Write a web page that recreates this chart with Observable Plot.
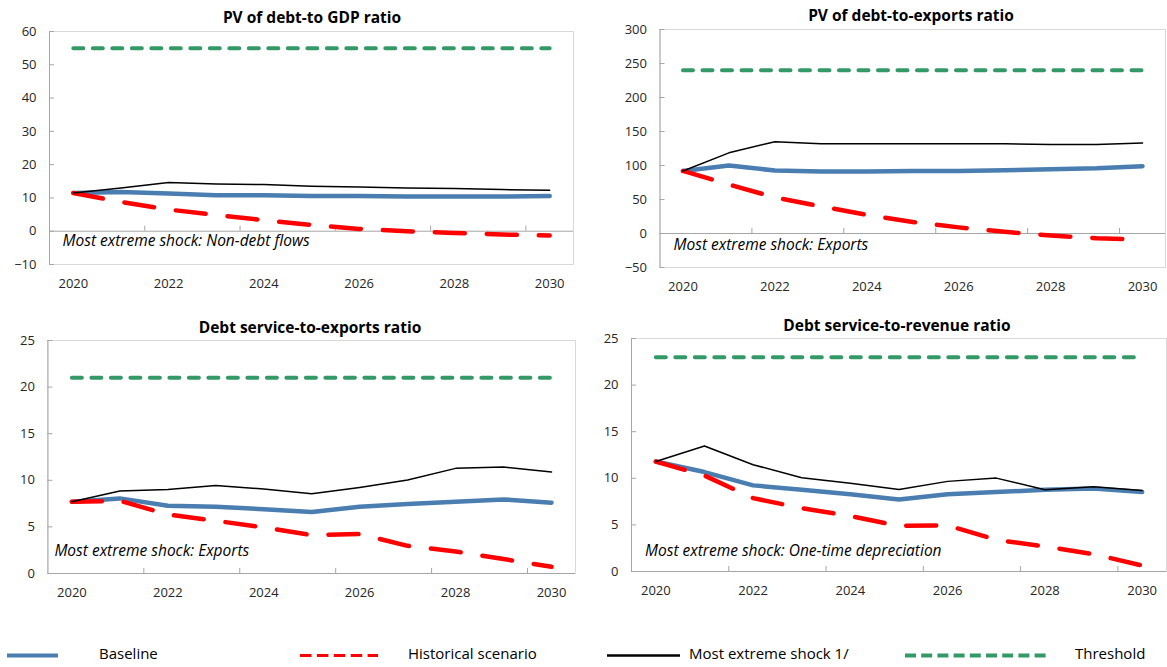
<!DOCTYPE html>
<html><head><meta charset="utf-8">
<script src="https://cdn.jsdelivr.net/npm/d3@7"></script>
<script src="https://cdn.jsdelivr.net/npm/@observablehq/plot@0.6"></script>
<style>
body{margin:0;background:#fff;}
#root{position:relative;width:1167px;height:667px;overflow:hidden;font-family:"Open Sans",sans-serif;color:#000;background:#fff}
.panel{position:absolute}
.title{position:absolute;transform:translate(-50%,-50%);font-weight:700;font-size:15.5px;white-space:nowrap;color:#000}
.leg{position:absolute;font-size:15px;white-space:nowrap;transform:translateY(-50%);color:#000}
</style></head><body><div id="root"></div>
<script>
// ---- data ----
const years = [2020, 2021, 2022, 2023, 2024, 2025, 2026, 2027, 2028, 2029, 2030];
const yearLabels = [2020, 2022, 2024, 2026, 2028, 2030];
const seriesNames = ["Baseline", "Historical scenario", "Most extreme shock 1/", "Threshold"];

const titles = ["PV of debt-to GDP ratio", "PV of debt-to-exports ratio", "Debt service-to-exports ratio", "Debt service-to-revenue ratio"];
const notes = ["Most extreme shock: Non-debt flows", "Most extreme shock: Exports", "Most extreme shock: Exports", "Most extreme shock: One-time depreciation"];

const gdpBaseline   = [11.5, 11.8, 11.3, 10.8, 10.8, 10.6, 10.6, 10.4, 10.4, 10.4, 10.6];
const gdpHistorical = [11.5, 8.8, 6.5, 4.9, 3.3, 1.9, 0.7, 0.0, -0.5, -1.0, -1.3];
const gdpExtreme    = [11.5, 13.0, 14.6, 14.2, 14.0, 13.5, 13.3, 13.0, 12.8, 12.5, 12.3];
const gdpThreshold  = 55;
const gdpTicks = [-10, 0, 10, 20, 30, 40, 50, 60];

const pvxBaseline   = [92, 100, 92.6, 91, 91, 92, 92, 93, 94.5, 96, 99];
const pvxHistorical = [92, 72, 53, 40, 27.5, 17, 9, 2.5, -3, -7, -9];
const pvxExtreme    = [92, 118.6, 135, 132, 132, 132, 132, 132, 131, 131, 133];
const pvxThreshold  = 240;
const pvxTicks = [-50, 0, 50, 100, 150, 200, 250, 300];

const dsxBaseline   = [7.7, 8.06, 7.27, 7.16, 6.9, 6.6, 7.16, 7.45, 7.7, 7.95, 7.6];
const dsxHistorical = [7.7, 7.8, 6.34, 5.66, 4.94, 4.12, 4.23, 2.97, 2.36, 1.55, 0.72];
const dsxExtreme    = [7.7, 8.85, 9.0, 9.45, 9.06, 8.56, 9.24, 10.03, 11.28, 11.43, 10.9];
const dsxThreshold  = 21;
const dsxTicks = [0, 5, 10, 15, 20, 25];

const dsrBaseline   = [11.8, 10.67, 9.24, 8.77, 8.3, 7.73, 8.3, 8.52, 8.77, 8.9, 8.52];
const dsrHistorical = [11.8, 10.3, 7.87, 6.8, 5.94, 4.9, 4.94, 3.4, 2.69, 1.86, 0.64];
const dsrExtreme    = [11.8, 13.46, 11.46, 10.06, 9.48, 8.8, 9.67, 10.02, 8.77, 9.1, 8.7];
const dsrThreshold  = 23;
const dsrTicks = [0, 5, 10, 15, 20, 25];

// ---- styles ----
const colBlue = "#4a7eb0", colRed = "#ff0000", colBlack = "#000000", colGreen = "#339966";
const axisGray = "#a6a6a6", frameGray = "#d9d9d9";

const panels = [
  {left: 0,   top: 0,   w: 583, ml: 49,   mr: 10, mt: 31, mb: 36, b: gdpBaseline, h: gdpHistorical, e: gdpExtreme, t: gdpThreshold, ticks: gdpTicks, title: titles[0], tx: 312, ty: 17, note: notes[0], ndx: 13, ndy: -19},
  {left: 583, top: 0,   w: 584, ml: 76.5, mr: 2,  mt: 29, mb: 33, b: pvxBaseline, h: pvxHistorical, e: pvxExtreme, t: pvxThreshold, ticks: pvxTicks, title: titles[1], tx: 911, ty: 15, note: notes[1], ndx: 13.5, ndy: -18},
  {left: 0,   top: 310, w: 583, ml: 47.4, mr: 8,  mt: 30, mb: 37, b: dsxBaseline, h: dsxHistorical, e: dsxExtreme, t: dsxThreshold, ticks: dsxTicks, title: titles[2], tx: 310, ty: 327, note: notes[2], ndx: 6.5, ndy: -18},
  {left: 583, top: 310, w: 584, ml: 48,   mr: 1,  mt: 28, mb: 39, b: dsrBaseline, h: dsrHistorical, e: dsrExtreme, t: dsrThreshold, ticks: dsrTicks, title: titles[3], tx: 897, ty: 325, note: notes[3], ndx: 13.5, ndy: -16}
];

const root = document.getElementById("root");
const x0 = years[0] - 0.5, x1 = years[years.length - 1] + 0.5;
const bounds = years.filter((y, i) => i % 2 === 1 && i < years.length - 1).map(y => y + 0.5);

for (const p of panels) {
  const rows = (vals, s) => years.map((yr, i) => ({year: yr, value: vals[i], series: s}));
  const base = rows(p.b, seriesNames[0]);
  const hist = rows(p.h, seriesNames[1]);
  const ext = rows(p.e, seriesNames[2]);
  const thr = years.map(yr => ({year: yr, value: p.t, series: seriesNames[3]}));
  const chart = Plot.plot({
    width: p.w, height: 300,
    marginLeft: p.ml, marginRight: p.mr, marginTop: p.mt, marginBottom: p.mb,
    style: {fontFamily: '"Open Sans", sans-serif', fontSize: "13px", color: "#262626", background: "transparent", overflow: "visible"},
    x: {domain: [x0, x1], label: null},
    y: {domain: [p.ticks[0], p.ticks[p.ticks.length - 1]], label: null},
    marks: [
      Plot.frame({stroke: frameGray}),
      Plot.ruleX([x0], {stroke: axisGray}),
      Plot.ruleY([0], {stroke: axisGray}),
      Plot.ruleY(p.ticks, {x1: x0, x2: x0, insetRight: -5, stroke: axisGray}),
      Plot.ruleX(bounds, {y1: 0, y2: 0, insetTop: -5, stroke: axisGray}),
      Plot.axisX(yearLabels, {tickSize: 0, tickPadding: 14, tickFormat: d => String(d), fill: "#262626", label: null}),
      Plot.axisY(p.ticks, {tickSize: 0, tickPadding: 13, fill: "#262626", label: null}),
      Plot.line(base, {x: "year", y: "value", stroke: colBlue, strokeWidth: 4.5, strokeLinecap: "round", strokeLinejoin: "round"}),
      Plot.line(hist, {x: "year", y: "value", stroke: colRed, strokeWidth: 4.5, strokeDasharray: "30,22", strokeLinecap: "round", strokeLinejoin: "round"}),
      Plot.line(ext, {x: "year", y: "value", stroke: colBlack, strokeWidth: 1.5, strokeLinejoin: "round"}),
      Plot.line(thr, {x: "year", y: "value", stroke: colGreen, strokeWidth: 4, strokeDasharray: "10,9.5", strokeLinecap: "round"}),
      Plot.text([p.note], {frameAnchor: "bottom-left", text: d => d, dx: p.ndx, dy: p.ndy, fontStyle: "italic", fontSize: 15.5, textAnchor: "start", fill: "#000"})
    ]
  });
  const div = document.createElement("div");
  div.className = "panel";
  div.style.left = p.left + "px";
  div.style.top = p.top + "px";
  div.appendChild(chart);
  root.appendChild(div);
  const t = document.createElement("div");
  t.className = "title";
  t.style.left = p.tx + "px";
  t.style.top = p.ty + "px";
  t.textContent = p.title;
  root.appendChild(t);
}

// ---- legend ----
const legendItems = [
  {name: seriesNames[0], x1: 7,   x2: 58,   stroke: colBlue,  w: 4,   dash: null,       tx: 99},
  {name: seriesNames[1], x1: 300, x2: 378,  stroke: colRed,   w: 3,   dash: "11.5,5.4", tx: 408},
  {name: seriesNames[2], x1: 607, x2: 680,  stroke: colBlack, w: 2.5, dash: null,       tx: 689},
  {name: seriesNames[3], x1: 905, x2: 1047, stroke: colGreen, w: 4,   dash: "11,5.2",   tx: 1075}
];
const ns = "http://www.w3.org/2000/svg";
const lsvg = document.createElementNS(ns, "svg");
lsvg.setAttribute("width", 1167); lsvg.setAttribute("height", 30);
lsvg.style.position = "absolute"; lsvg.style.left = "0px"; lsvg.style.top = "640px";
for (const it of legendItems) {
  const ln = document.createElementNS(ns, "line");
  ln.setAttribute("x1", it.x1); ln.setAttribute("x2", it.x2);
  ln.setAttribute("y1", 15.5); ln.setAttribute("y2", 15.5);
  ln.setAttribute("stroke", it.stroke); ln.setAttribute("stroke-width", it.w);
  if (it.dash) ln.setAttribute("stroke-dasharray", it.dash);
  lsvg.appendChild(ln);
  const tx = document.createElement("div");
  tx.className = "leg";
  tx.style.left = it.tx + "px"; tx.style.top = "653px";
  tx.textContent = it.name;
  root.appendChild(tx);
}
root.appendChild(lsvg);
</script></body></html>
